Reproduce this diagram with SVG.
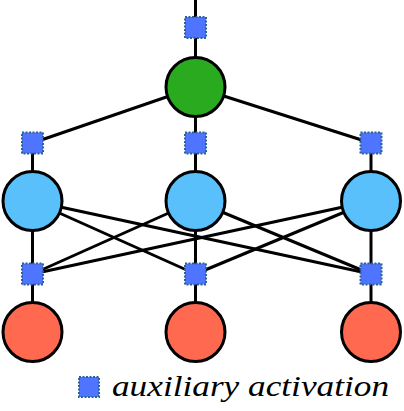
<svg xmlns="http://www.w3.org/2000/svg" width="404" height="411" viewBox="0 0 404 411">
<style>
.edge{stroke:#000;stroke-width:3;fill:none}
.node{stroke:#000;stroke-width:3}
.aux{fill:#4f74ff;stroke:#2c6396;stroke-width:2;stroke-dasharray:2 1.5}
.out{fill:#2aab1f}
.hid{fill:#5ac0fb}
.inp{fill:#fe6950}
</style>
<rect width="404" height="411" fill="#fff"/>
<g id="connectors">
<line class="edge" x1="195.5" y1="0" x2="195.5" y2="87"/>
<line class="edge" x1="195.5" y1="87" x2="32.5" y2="143"/>
<line class="edge" x1="195.5" y1="87" x2="195.5" y2="143"/>
<line class="edge" x1="195.5" y1="87" x2="371" y2="143"/>
<line class="edge" x1="32.5" y1="143" x2="32.5" y2="201"/>
<line class="edge" x1="195.5" y1="143" x2="195.5" y2="201"/>
<line class="edge" x1="371" y1="143" x2="371" y2="201"/>
<line class="edge" x1="32.5" y1="201" x2="32.5" y2="274"/>
<line class="edge" x1="32.5" y1="201" x2="195.5" y2="274"/>
<line class="edge" x1="32.5" y1="201" x2="371" y2="274"/>
<line class="edge" x1="195.5" y1="201" x2="32.5" y2="274"/>
<line class="edge" x1="195.5" y1="201" x2="195.5" y2="274"/>
<line class="edge" x1="195.5" y1="201" x2="371" y2="274"/>
<line class="edge" x1="371" y1="201" x2="32.5" y2="274"/>
<line class="edge" x1="371" y1="201" x2="195.5" y2="274"/>
<line class="edge" x1="371" y1="201" x2="371" y2="274"/>
<line class="edge" x1="32.5" y1="274" x2="32.5" y2="332"/>
<line class="edge" x1="195.5" y1="274" x2="195.5" y2="332"/>
<line class="edge" x1="371" y1="274" x2="371" y2="332"/>
</g>
<g id="aux-top"><rect class="aux" x="185" y="17" width="21" height="21"/></g>
<g id="output"><circle class="node out" cx="195.5" cy="87" r="29.5"/></g>
<g id="aux-h1"><rect class="aux" x="22" y="132.5" width="21" height="21"/></g>
<g id="aux-h2"><rect class="aux" x="185" y="132.5" width="21" height="21"/></g>
<g id="aux-h3"><rect class="aux" x="360.5" y="132.5" width="21" height="21"/></g>
<g id="hidden1"><circle class="node hid" cx="32.5" cy="201" r="29.5"/></g>
<g id="hidden2"><circle class="node hid" cx="195.5" cy="201" r="29.5"/></g>
<g id="hidden3"><circle class="node hid" cx="371" cy="201" r="29.5"/></g>
<g id="aux-i1"><rect class="aux" x="22" y="263.5" width="21" height="21"/></g>
<g id="aux-i2"><rect class="aux" x="185" y="263.5" width="21" height="21"/></g>
<g id="aux-i3"><rect class="aux" x="360.5" y="263.5" width="21" height="21"/></g>
<g id="input1"><circle class="node inp" cx="32.5" cy="332" r="29.5"/></g>
<g id="input2"><circle class="node inp" cx="195.5" cy="332" r="29.5"/></g>
<g id="input3"><circle class="node inp" cx="371" cy="332" r="29.5"/></g>
<g id="legend">
<rect class="aux" x="79" y="377" width="20" height="20"/>
<text x="112" y="396" font-family="'Liberation Serif', 'DejaVu Serif', serif" font-style="italic" font-size="30" fill="#000" textLength="277" lengthAdjust="spacingAndGlyphs">auxiliary activation</text>
</g>
</svg>
